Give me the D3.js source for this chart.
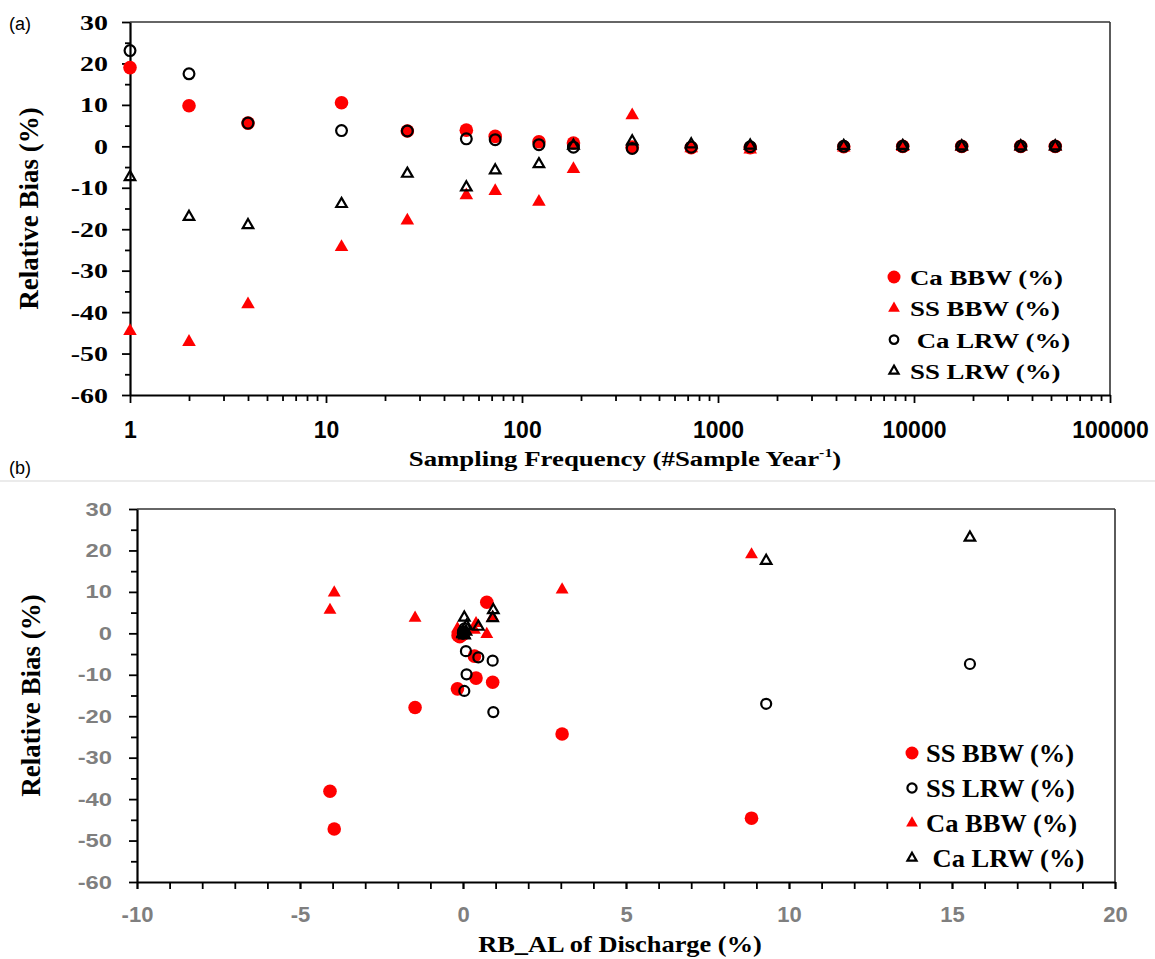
<!DOCTYPE html>
<html><head><meta charset="utf-8">
<script src="https://cdn.jsdelivr.net/npm/d3@7"></script>
<style>body{margin:0;background:#fff}</style>
</head><body>
<svg id="chart" width="1155" height="959"></svg>
<script>
// ---------------- DATA ----------------
const frequency = [1, 2, 4, 12, 26, 52, 73, 122, 183, 365, 730, 1460, 4380, 8760, 17520, 35040, 52560];
const caBBW = [19.0, 9.8, 5.6, 10.5, 3.7, 3.9, 2.4, 1.1, 0.8, -0.2, -0.3, -0.3, -0.1, 0.0, 0.0, 0.0, 0.0];
const ssBBW = [-44.6, -47.2, -38.1, -24.3, -17.9, -11.8, -10.8, -13.4, -5.5, 7.5, -0.5, -0.8, -0.3, -0.2, -0.2, -0.1, -0.1];
const caLRW = [23.1, 17.5, 5.6, 3.8, 3.7, 1.8, 1.6, 0.4, -0.2, -0.5, -0.2, -0.1, 0.0, 0.0, 0.0, 0.0, 0.0];
const ssLRW = [-7.4, -17.0, -19.0, -13.9, -6.6, -9.9, -5.8, -4.3, 0.2, 1.2, 0.5, 0.2, 0.1, 0.1, 0.0, 0.0, 0.0];
// RB_AL of discharge for each sampling frequency (panel b x values)
const dischargeBBW = [8.85, -3.95, -4.08, 3.04, -1.47, 0.91, 0.40, -0.17, 0.35, 0.73, -0.15, -0.10, -0.05, 0.0, 0.0, 0.0, 0.0];
const dischargeLRW = [15.55, 9.3, 0.93, 0.04, 0.91, 0.11, 0.47, 0.09, 0.02, 0.05, 0.0, 0.0, 0.0, 0.0, 0.0, 0.0, 0.0];
const refLineA = -0.3;
const refLineB = 0.5;
const yTicks = [-60, -50, -40, -30, -20, -10, 0, 10, 20, 30];
const xTicksA = [1, 10, 100, 1000, 10000, 100000];
const xTicksB = [-10, -5, 0, 5, 10, 15, 20];
const legendA = ["Ca BBW (%)", "SS BBW (%)", " Ca LRW (%)", "SS LRW (%)"];
const legendB = ["SS BBW (%)", "SS LRW (%)", "Ca BBW (%)", " Ca LRW (%)"];

// ---------------- SETUP ----------------
const svg = d3.select("#chart");
const SERIF = "'Liberation Serif','Times New Roman',serif";
const SANS = "'Liberation Sans',Arial,sans-serif";
const SX = 1.22;
const RED = "#ff0000";
const GREY = "#7f7f7f";
const fmt = d => String(d);

const defs = svg.append("defs");
const filt = defs.append("filter").attr("id", "shadow")
  .attr("x", "-5%").attr("y", "-300%").attr("width", "110%").attr("height", "700%");
filt.append("feDropShadow").attr("dx", 0).attr("dy", 3).attr("stdDeviation", 2)
  .attr("flood-color", "#777").attr("flood-opacity", 0.75);

// separator line
svg.append("line").attr("x1", 0).attr("x2", 1155).attr("y1", 481).attr("y2", 481)
  .attr("stroke", "#e4e4e4").attr("stroke-width", 1.5);

// panel labels
svg.append("text").attr("x", 9).attr("y", 30).attr("font-family", SANS).attr("font-size", 18).text("(a)");
svg.append("text").attr("x", 9).attr("y", 474).attr("font-family", SANS).attr("font-size", 18).text("(b)");

function sx(text, x, y, opts) {
  const g = svg.append("g").attr("transform", `translate(${x},${y}) scale(${opts.scale || SX},1)`);
  const t = g.append("text").attr("x", 0).attr("y", 0)
    .attr("font-family", opts.family || SERIF).attr("font-weight", opts.weight || "bold")
    .attr("font-size", opts.size || 22).attr("fill", opts.fill || "#000")
    .attr("text-anchor", opts.anchor || "start").attr("xml:space", "preserve");
  return t.text(text);
}

function marker(sel, type, size) {
  if (type === "fc") sel.append("circle").attr("r", size).attr("fill", RED);
  else if (type === "oc") sel.append("circle").attr("r", size).attr("fill", "none").attr("stroke", "#000").attr("stroke-width", 2.2);
  else if (type === "ft") sel.append("path").attr("d", d3.symbol(d3.symbolTriangle, size)()).attr("fill", RED);
  else sel.append("path").attr("d", d3.symbol(d3.symbolTriangle, size)()).attr("fill", "none").attr("stroke", "#000").attr("stroke-width", 2.2).attr("stroke-linejoin", "miter");
}

function drawPoints(g, xs, ys, xScale, yScale, type, size) {
  xs.forEach((xv, i) => {
    const m = g.append("g").attr("transform", `translate(${xScale(xv)},${yScale(ys[i])})`);
    marker(m, type, size);
  });
}

function frame(x0, x1, y0, y1) {
  svg.append("line").attr("x1", x0).attr("x2", x1).attr("y1", y0).attr("y2", y0).attr("stroke", "#333").attr("stroke-width", 1.6);
  svg.append("line").attr("x1", x1).attr("x2", x1).attr("y1", y0).attr("y2", y1).attr("stroke", "#333").attr("stroke-width", 1.6);
}

function styleAxis(g) {
  g.select(".domain").attr("stroke", "#000").attr("stroke-width", 2.2);
  g.selectAll(".tick line").attr("stroke", "#000").attr("stroke-width", 1.8);
}

// ---------------- PANEL A ----------------
const xa = d3.scaleLog().domain([1, 100000]).range([130, 1110]);
const ya = d3.scaleLinear().domain([-60, 30]).range([395, 22]);
frame(130, 1110, 22, 395);

const minorLog = [];
[1, 10, 100, 1000, 10000].forEach(d => { for (let k = 2; k <= 9; k++) minorLog.push(d * k); });

const gaxm = svg.append("g").attr("transform", "translate(0,395)")
  .call(d3.axisBottom(xa).tickValues(minorLog).tickSize(6).tickFormat(""));
gaxm.select(".domain").remove(); styleAxis(gaxm);
const gax = svg.append("g").attr("transform", "translate(0,395)")
  .call(d3.axisBottom(xa).tickValues(xTicksA).tickSize(8).tickSizeOuter(0).tickFormat(fmt));
styleAxis(gax);
gax.selectAll(".tick text").attr("font-family", SANS).attr("font-weight", "bold").attr("font-size", 23)
  .attr("fill", "#000").attr("y", 27);

const gaym = svg.append("g").attr("transform", "translate(130,0)")
  .call(d3.axisLeft(ya).tickValues(d3.range(-55, 30, 10)).tickSize(5).tickFormat(""));
gaym.select(".domain").remove(); styleAxis(gaym);
const gay = svg.append("g").attr("transform", "translate(130,0)")
  .call(d3.axisLeft(ya).tickValues(yTicks).tickSize(8).tickSizeOuter(0).tickFormat(fmt));
styleAxis(gay);
gay.selectAll(".tick text").attr("font-family", SERIF).attr("font-weight", "bold").attr("font-size", 22)
  .attr("fill", "#000").attr("x", -22 / 1.27).attr("transform", "scale(1.27,1)");

svg.append("line").attr("x1", 130).attr("x2", 1106).attr("y1", ya(refLineA)).attr("y2", ya(refLineA))
  .attr("stroke", "#000").attr("stroke-width", 4.5).attr("stroke-dasharray", "13,6").attr("filter", "url(#shadow)");

const pa = svg.append("g");
drawPoints(pa, frequency, ssBBW, xa, ya, "ft", 80);
drawPoints(pa, frequency, caBBW, xa, ya, "fc", 6.8);
drawPoints(pa, frequency, caLRW, xa, ya, "oc", 5.4);
drawPoints(pa, frequency, ssLRW, xa, ya, "ot", 48);

// titles A
svg.append("text").attr("transform", `translate(38,${(22 + 395) / 2}) rotate(-90)`)
  .attr("text-anchor", "middle").attr("font-family", SERIF).attr("font-weight", "bold").attr("font-size", 27)
  .text("Relative Bias (%)");
{
  const t = sx("", (130 + 1110) / 2 + 5, 466, { anchor: "middle", size: 22 });
  t.append("tspan").text("Sampling Frequency (#Sample Year");
  t.append("tspan").attr("font-size", 13).attr("dy", -9).text("-1");
  t.append("tspan").attr("dy", 9).text(")");
}

// legend A
const legTypesA = ["fc", "ft", "oc", "ot"];
const legSizesA = [6.5, 60, 4.3, 36];
legendA.forEach((name, i) => {
  const y = 277 + i * 31.3;
  const m = svg.append("g").attr("transform", `translate(894,${y})`);
  marker(m, legTypesA[i], legSizesA[i]);
  sx(name, 910, y + 8, { size: 22 });
});

// ---------------- PANEL B ----------------
const xb = d3.scaleLinear().domain([-10, 20]).range([137, 1115]);
const yb = d3.scaleLinear().domain([-60, 30]).range([882, 509]);
frame(137, 1115, 509, 882);

const gbxm = svg.append("g").attr("transform", "translate(0,882)")
  .call(d3.axisBottom(xb).tickValues(d3.range(-10, 21, 1)).tickSize(7).tickFormat(""));
gbxm.select(".domain").remove(); styleAxis(gbxm);
const gbx = svg.append("g").attr("transform", "translate(0,882)")
  .call(d3.axisBottom(xb).tickValues(xTicksB).tickSize(7).tickSizeOuter(0).tickFormat(fmt));
styleAxis(gbx);
gbx.selectAll(".tick text").attr("font-family", SANS).attr("font-weight", "bold").attr("font-size", 22)
  .attr("fill", GREY).attr("y", 24);

const gbym = svg.append("g").attr("transform", "translate(137,0)")
  .call(d3.axisLeft(yb).tickValues(d3.range(-55, 30, 10)).tickSize(6).tickFormat(""));
gbym.select(".domain").remove(); styleAxis(gbym);
const gby = svg.append("g").attr("transform", "translate(137,0)")
  .call(d3.axisLeft(yb).tickValues(yTicks).tickSize(8).tickSizeOuter(0).tickFormat(fmt));
styleAxis(gby);
gby.selectAll(".tick text").attr("font-family", SANS).attr("font-weight", "bold").attr("font-size", 19)
  .attr("fill", GREY).attr("x", -25 / 1.25).attr("transform", "scale(1.25,1)");

svg.append("line").attr("x1", 137).attr("x2", 1112).attr("y1", yb(refLineB)).attr("y2", yb(refLineB))
  .attr("stroke", "#000").attr("stroke-width", 4.5).attr("stroke-dasharray", "13,6").attr("filter", "url(#shadow)");

const pb = svg.append("g");
drawPoints(pb, dischargeBBW, ssBBW, xb, yb, "fc", 6.8);
drawPoints(pb, dischargeBBW, caBBW, xb, yb, "ft", 72);
drawPoints(pb, dischargeLRW, ssLRW, xb, yb, "oc", 5.0);
drawPoints(pb, dischargeLRW, caLRW, xb, yb, "ot", 48);

svg.append("text").attr("transform", `translate(40,${(509 + 882) / 2}) rotate(-90)`)
  .attr("text-anchor", "middle").attr("font-family", SERIF).attr("font-weight", "bold").attr("font-size", 27)
  .text("Relative Bias (%)");
sx("RB_AL of Discharge (%)", 620, 952, { anchor: "middle", size: 24, scale: 1.1 });

const legTypesB = ["fc", "oc", "ft", "ot"];
const legSizesB = [6.5, 4.6, 60, 36];
legendB.forEach((name, i) => {
  const y = 753 + i * 35;
  const m = svg.append("g").attr("transform", `translate(912,${y})`);
  marker(m, legTypesB[i], legSizesB[i]);
  sx(name, 926, y + 9, { size: 25, scale: 1.06 });
});
</script>
</body></html>
